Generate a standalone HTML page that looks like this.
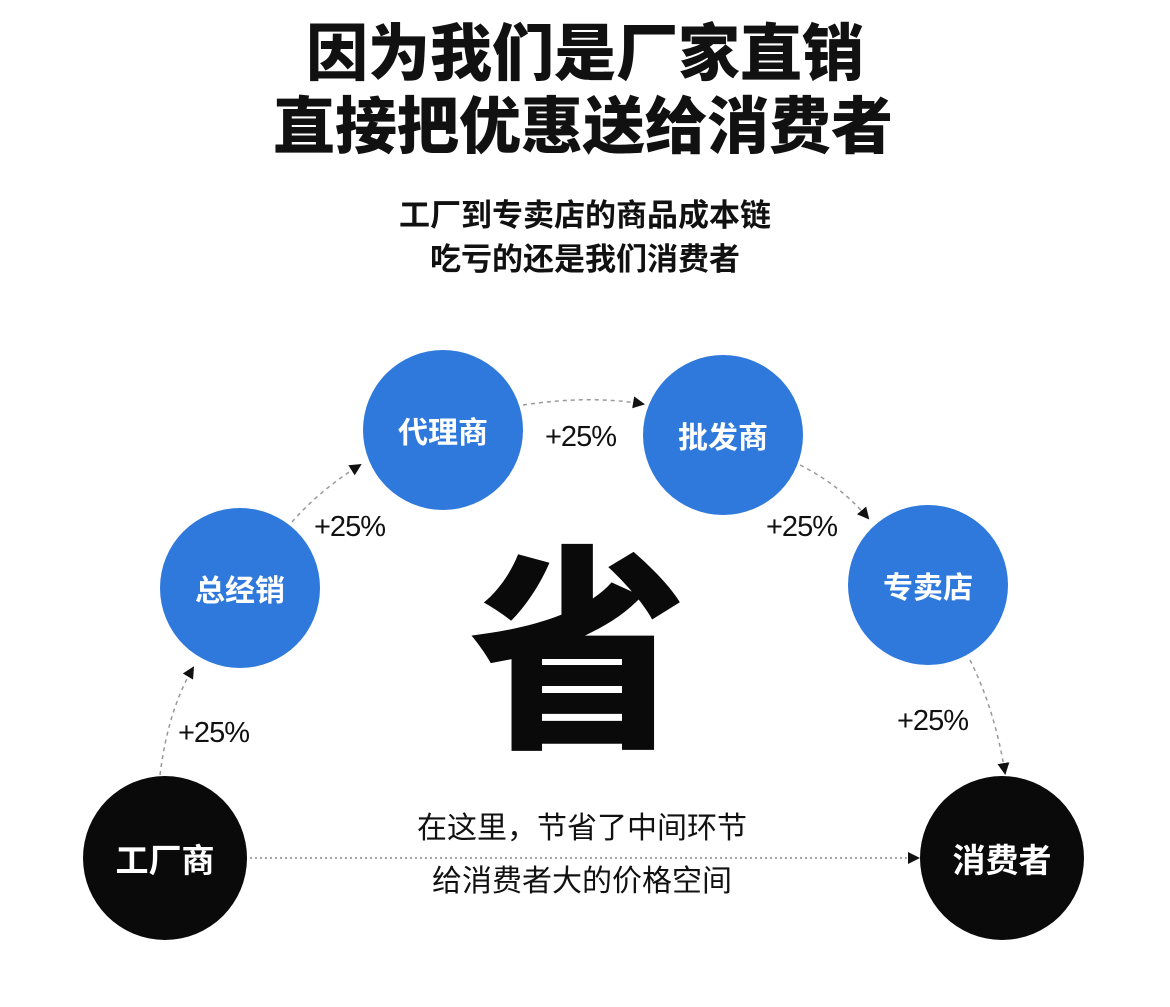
<!DOCTYPE html>
<html><head><meta charset="utf-8"><style>
body{margin:0;background:#fff;}
#c{position:relative;width:1170px;height:1007px;overflow:hidden;font-family:"Liberation Sans","Noto Sans CJK SC",sans-serif;}
.t{position:absolute;left:0;width:1170px;text-align:center;color:#111;font-weight:900;white-space:nowrap;}
.circ{position:absolute;border-radius:50%;display:flex;align-items:center;justify-content:center;color:#fff;font-weight:bold;font-size:30px;font-family:"Liberation Sans","Noto Sans CJK SC",sans-serif;}
.b{background:#2f78dc;width:160px;height:160px;}
.k{background:#0a0a0a;width:164px;height:164px;font-size:33px;}
.p{position:absolute;font-size:29px;color:#111;font-family:"Liberation Sans",sans-serif;letter-spacing:-1px;}
</style></head><body><div id="c">
<div class="t" style="top:15px;font-size:62px;line-height:80px;left:0px">因为我们是厂家直销</div>
<div class="t" style="top:88px;font-size:62px;line-height:80px;left:-2px">直接把优惠送给消费者</div>
<div class="t" style="top:196px;font-size:31px;line-height:40px;font-weight:bold;">工厂到专卖店的商品成本链</div>
<div class="t" style="top:240px;font-size:31px;line-height:40px;font-weight:bold;">吃亏的还是我们消费者</div>
<svg width="1170" height="1007" style="position:absolute;left:0;top:0">
<defs><marker id="a" markerWidth="12" markerHeight="12" refX="10" refY="6" orient="auto" markerUnits="userSpaceOnUse"><path d="M0,0 L12,6 L0,12 z" fill="#111"/></marker></defs>
<g fill="none" stroke="#999" stroke-width="1.5" stroke-dasharray="4,4" marker-end="url(#a)">
<path d="M160,775 Q168,710 193,668"/>
<path d="M292,522 Q320,490 360,465"/>
<path d="M523,405 Q590,395 643,404"/>
<path d="M800,465 Q840,485 868,518"/>
<path d="M970,660 Q995,710 1005,773"/>
<path d="M245,858 L918,858" stroke="#888" stroke-dasharray="2,3"/>
</g></svg>
<div class="circ b" style="left:363px;top:350px">代理商</div>
<div class="circ b" style="left:643px;top:355px">批发商</div>
<div class="circ b" style="left:160px;top:508px">总经销</div>
<div class="circ b" style="left:848px;top:505px">专卖店</div>
<div class="circ k" style="left:83px;top:776px">工厂商</div>
<div class="circ k" style="left:920px;top:776px">消费者</div>
<div style="position:absolute;left:458px;top:515px;width:240px;text-align:center;font-size:218px;line-height:240px;font-weight:900;color:#0a0a0a;font-family:'Noto Sans CJK SC',sans-serif">省</div>
<div class="p" style="left:178px;top:717px">+25%</div>
<div class="p" style="left:314px;top:511px">+25%</div>
<div class="p" style="left:545px;top:421px">+25%</div>
<div class="p" style="left:766px;top:511px">+25%</div>
<div class="p" style="left:897px;top:705px">+25%</div>
<div class="t" style="top:810px;font-size:30px;line-height:38px;font-weight:normal;left:-3px">在这里，节省了中间环节</div>
<div class="t" style="top:863px;font-size:30px;line-height:38px;font-weight:normal;left:-3px">给消费者大的价格空间</div>
</div></body></html>
